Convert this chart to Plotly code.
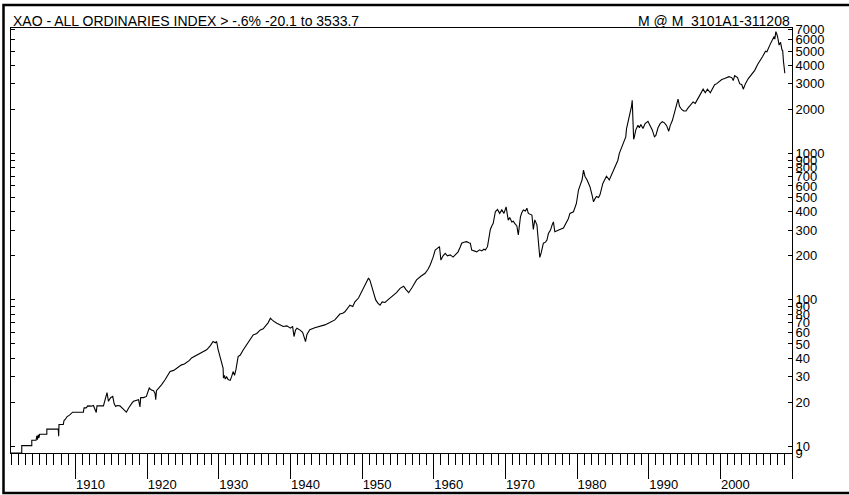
import plotly.graph_objects as go

# All Ordinaries index, monthly-ish readings taken off the chart (decimal year, index level)
years = [
    1901.0, 1902.5, 1902.5, 1903.9, 1903.9, 1904.5, 1904.6, 1904.7, 1904.8, 1904.9,
    1905.0, 1906.0, 1906.0, 1907.6, 1907.65, 1907.7, 1908.3, 1908.4, 1908.6, 1908.8,
    1909.2, 1909.6, 1911.1, 1911.2, 1911.5, 1911.7, 1912.2, 1912.5, 1912.9, 1913.0,
    1913.9, 1914.2, 1914.4, 1914.6, 1914.9, 1915.2, 1915.4, 1915.6, 1915.8, 1916.2,
    1916.7, 1917.1, 1917.4, 1917.6, 1917.9, 1918.1, 1918.5, 1918.8, 1919.0, 1919.1,
    1919.5, 1919.9, 1920.1, 1920.3, 1920.6, 1920.9, 1921.1, 1921.2, 1921.3, 1921.6,
    1922.0, 1922.5, 1922.9, 1923.2, 1923.7, 1924.1, 1924.5, 1924.8, 1925.2, 1925.5,
    1925.9, 1926.2, 1926.8, 1927.4, 1927.9, 1928.3, 1928.8, 1929.2, 1929.5, 1929.7,
    1929.9, 1930.2, 1930.4, 1930.6, 1930.65, 1930.8, 1930.9, 1931.1, 1931.3, 1931.6,
    1931.8, 1932.0, 1932.2, 1932.4, 1932.7, 1933.0, 1933.4, 1933.9, 1934.3, 1934.8,
    1935.3, 1935.8, 1936.2, 1936.5, 1936.9, 1937.2, 1937.5, 1938.1, 1938.6, 1939.0,
    1939.5, 1940.0, 1940.3, 1940.5, 1940.7, 1940.9, 1941.3, 1941.7, 1942.0, 1942.1,
    1942.3, 1942.7, 1943.4, 1944.1, 1944.8, 1945.5, 1946.2, 1946.9, 1947.3, 1947.6,
    1948.0, 1948.3, 1948.7, 1949.0, 1949.5, 1950.0, 1950.4, 1950.7, 1950.9, 1951.1,
    1951.3, 1951.6, 1951.9, 1952.2, 1952.5, 1952.8, 1953.2, 1953.6, 1954.0, 1954.4,
    1954.8, 1955.3, 1955.8, 1956.1, 1956.5, 1957.0, 1957.6, 1958.2, 1958.8, 1959.2,
    1959.5, 1959.9, 1960.2, 1960.5, 1960.8, 1961.0, 1961.3, 1961.6, 1961.9, 1962.3,
    1962.7, 1963.0, 1963.4, 1963.7, 1963.9, 1964.2, 1964.6, 1964.9, 1965.1, 1965.3,
    1965.7, 1966.0, 1966.4, 1966.7, 1967.0, 1967.2, 1967.5, 1967.9, 1968.1, 1968.3,
    1968.6, 1968.9, 1969.2, 1969.5, 1969.8, 1970.1, 1970.4, 1970.6, 1970.9, 1971.1,
    1971.3, 1971.6, 1971.8, 1972.1, 1972.3, 1972.5, 1972.8, 1973.0, 1973.2, 1973.5,
    1973.7, 1973.9, 1974.1, 1974.4, 1974.6, 1974.8, 1975.0, 1975.1, 1975.3, 1975.6,
    1975.8, 1976.0, 1976.3, 1976.5, 1976.7, 1976.9, 1977.2, 1977.6, 1978.1, 1978.6,
    1978.8, 1979.0, 1979.5, 1979.9, 1980.2, 1980.5, 1980.7, 1980.9, 1981.1, 1981.4,
    1981.8, 1982.1, 1982.3, 1982.5, 1982.7, 1983.0, 1983.2, 1983.6, 1984.1, 1984.5,
    1984.9, 1985.3, 1985.7, 1985.9, 1986.2, 1986.5, 1986.8, 1986.9, 1987.2, 1987.4,
    1987.6, 1987.7, 1987.8, 1987.85, 1987.9, 1988.0, 1988.2, 1988.5, 1988.7, 1988.9,
    1989.2, 1989.5, 1989.9, 1990.2, 1990.5, 1990.8, 1991.0, 1991.3, 1991.6, 1991.9,
    1992.2, 1992.5, 1992.8, 1993.0, 1993.3, 1993.6, 1993.9, 1994.1, 1994.3, 1994.6,
    1994.9, 1995.2, 1995.5, 1995.9, 1996.2, 1996.5, 1996.9, 1997.2, 1997.6, 1997.9,
    1998.2, 1998.6, 1998.9, 1999.2, 1999.5, 1999.9, 2000.2, 2000.6, 2000.9, 2001.2,
    2001.6, 2001.8, 2002.0, 2002.4, 2002.7, 2003.0, 2003.2, 2003.5, 2003.9, 2004.3,
    2004.8, 2005.2, 2005.5, 2005.9, 2006.3, 2006.5, 2006.9, 2007.2, 2007.5, 2007.6,
    2007.75, 2007.9, 2008.0, 2008.2, 2008.4, 2008.6, 2008.7, 2008.8, 2009.0,
]
index_values = [
    9.0, 9.0, 10.1, 10.1, 11.0, 11.0, 11.8, 11.1, 12.0, 11.4,
    12.1, 12.1, 13.1, 13.1, 11.7, 14.1, 14.1, 15.0, 15.3, 15.9,
    16.4, 17.1, 17.1, 18.3, 18.3, 18.9, 18.8, 19.0, 17.0, 18.9,
    18.9, 21.0, 23.3, 20.3, 21.5, 21.9, 19.5, 18.7, 19.0, 18.9,
    18.0, 17.1, 18.2, 18.9, 19.8, 20.3, 20.6, 20.8, 18.6, 21.5,
    21.5, 21.9, 23.5, 25.0, 24.2, 24.0, 23.0, 20.8, 24.0, 24.8,
    26.3, 28.5, 30.5, 32.4, 33.0, 34.2, 35.2, 36.0, 36.5, 37.2,
    38.6, 40.1, 41.5, 43.3, 44.5, 45.6, 48.5, 52.0, 51.0, 52.0,
    46.0, 40.1, 36.5, 34.2, 29.3, 30.5, 28.8, 29.8, 28.6, 28.2,
    30.0, 32.4, 30.5, 33.5, 41.0, 42.0, 45.5, 49.3, 52.5, 57.7,
    59.0, 62.4, 63.5, 65.8, 70.0, 75.0, 72.5, 69.3, 67.5, 65.8,
    66.5, 64.1, 66.0, 56.2, 62.0, 64.1, 62.4, 60.0, 54.0, 51.8,
    58.0, 62.5, 64.5, 66.0, 67.5, 70.0, 73.0, 80.0, 81.0, 83.0,
    88.0, 92.0, 90.0, 97.0, 103.0, 115.0, 125.0, 132.0, 141.0, 136.0,
    125.0, 112.0, 100.0, 95.0, 92.0, 97.0, 96.0, 100.0, 104.0, 108.0,
    112.0, 120.0, 124.0, 118.0, 112.0, 122.0, 137.0, 145.0, 152.0, 162.0,
    173.0, 195.0, 219.0, 225.0, 231.0, 187.0, 200.0, 208.0, 200.0, 203.0,
    196.0, 203.0, 213.0, 230.0, 244.0, 248.0, 250.0, 246.0, 244.0, 219.0,
    215.0, 213.0, 220.0, 216.0, 222.0, 219.0, 231.0, 303.0, 320.0, 334.0,
    400.0, 415.0, 390.0, 412.0, 390.0, 432.0, 350.0, 365.0, 341.0, 345.0,
    333.0, 320.0, 278.0, 369.0, 395.0, 412.0, 405.0, 423.0, 390.0, 385.0,
    380.0, 303.0, 352.0, 326.0, 240.0, 195.0, 210.0, 219.0, 244.0, 248.0,
    256.0, 284.0, 300.0, 323.0, 341.0, 292.0, 298.0, 303.0, 310.0, 341.0,
    360.0, 390.0, 400.0, 454.0, 563.0, 620.0, 659.0, 770.0, 700.0, 659.0,
    593.0, 520.0, 468.0, 490.0, 508.0, 500.0, 522.0, 625.0, 700.0, 660.0,
    730.0, 820.0, 900.0, 1003.0, 1100.0, 1200.0, 1300.0, 1473.0, 1700.0, 1900.0,
    2100.0, 2306.0, 1600.0, 1400.0, 1250.0, 1300.0, 1450.0, 1560.0, 1500.0, 1580.0,
    1480.0, 1600.0, 1660.0, 1550.0, 1450.0, 1300.0, 1330.0, 1500.0, 1600.0, 1650.0,
    1620.0, 1550.0, 1420.0, 1550.0, 1680.0, 1900.0, 2150.0, 2350.0, 2100.0, 2000.0,
    1950.0, 1950.0, 2050.0, 2150.0, 2250.0, 2200.0, 2400.0, 2500.0, 2750.0, 2600.0,
    2750.0, 2600.0, 2800.0, 2950.0, 3000.0, 3100.0, 3200.0, 3250.0, 3300.0, 3350.0,
    3300.0, 3150.0, 3400.0, 3300.0, 3000.0, 2950.0, 2750.0, 3000.0, 3250.0, 3450.0,
    3700.0, 4050.0, 4250.0, 4600.0, 5000.0, 4950.0, 5500.0, 5900.0, 6300.0, 6050.0,
    6800.0, 6500.0, 6250.0, 5500.0, 5750.0, 5100.0, 5050.0, 4300.0, 3533.7,
]

# axis ticks
x_tick_years = [1910, 1920, 1930, 1940, 1950, 1960, 1970, 1980, 1990, 2000, 2010]
x_tick_labels = ['1910', '1920', '1930', '1940', '1950', '1960', '1970', '1980', '1990', '2000', '']
y_tick_vals = [9, 10, 20, 30, 40, 50, 60, 70, 80, 90,
               100, 200, 300, 400, 500, 600, 700, 800, 900,
               1000, 2000, 3000, 4000, 5000, 6000, 7000]
y_tick_labels = [str(v) for v in y_tick_vals]

title_left = 'XAO - ALL ORDINARIES INDEX > -.6% -20.1 to 3533.7'
title_right = 'M @ M  3101A1-311208'

FONT = 'Liberation Sans, Arial, sans-serif'

fig = go.Figure()
fig.add_trace(go.Scatter(
    x=years, y=index_values, mode='lines',
    line=dict(color='black', width=1.1),
    showlegend=False, hoverinfo='skip',
))

fig.update_layout(
    width=849, height=495,
    margin=dict(l=11, r=57, t=28, b=42),
    paper_bgcolor='white', plot_bgcolor='white',
    font=dict(family=FONT, size=13, color='black'),
)

fig.update_xaxes(
    range=[1901, 2010], automargin=False,
    showgrid=False, zeroline=False,
    showline=True, linecolor='black', linewidth=1, mirror=True,
    tickmode='array', tickvals=x_tick_years, ticktext=x_tick_labels,
    ticks='outside', ticklen=25, tickwidth=1, tickcolor='black',
    ticklabelshift=15, ticklabelstandoff=-6,
    minor=dict(tickmode='array', tickvals=list(range(1901, 2010)),
               ticks='outside', ticklen=11, tickwidth=1, tickcolor='black', showgrid=False),
    tickfont=dict(size=13),
)
fig.update_yaxes(
    type='log', side='right', automargin=False,
    range=[0.954243, 3.857332],
    showgrid=False, zeroline=False,
    showline=True, linecolor='black', linewidth=1, mirror='ticks',
    tickmode='array', tickvals=y_tick_vals, ticktext=y_tick_labels,
    ticks='inside', ticklen=4, tickwidth=1, tickcolor='black',
    tickfont=dict(size=13),
)

# title strip
fig.add_annotation(text=title_left, xref='paper', yref='paper',
                   x=0.0, y=1.0165, xanchor='left', yanchor='middle',
                   showarrow=False, font=dict(size=14, family=FONT))
fig.add_annotation(text=title_right, xref='paper', yref='paper',
                   x=1.0, y=1.0165, xanchor='right', yanchor='middle',
                   showarrow=False, font=dict(size=14, family=FONT))

# outer frame of the page
fig.add_shape(type='rect', xref='paper', yref='paper',
              x0=-0.0096, x1=1.2, y0=-0.0941, y1=1.054,
              line=dict(color='black', width=2.5), layer='above')

# page body has a default 8px margin; drop it so the figure sits at the window corner
fig.write_html("out.html", config={'displayModeBar': False},
               post_script="document.body.style.margin='0';")
